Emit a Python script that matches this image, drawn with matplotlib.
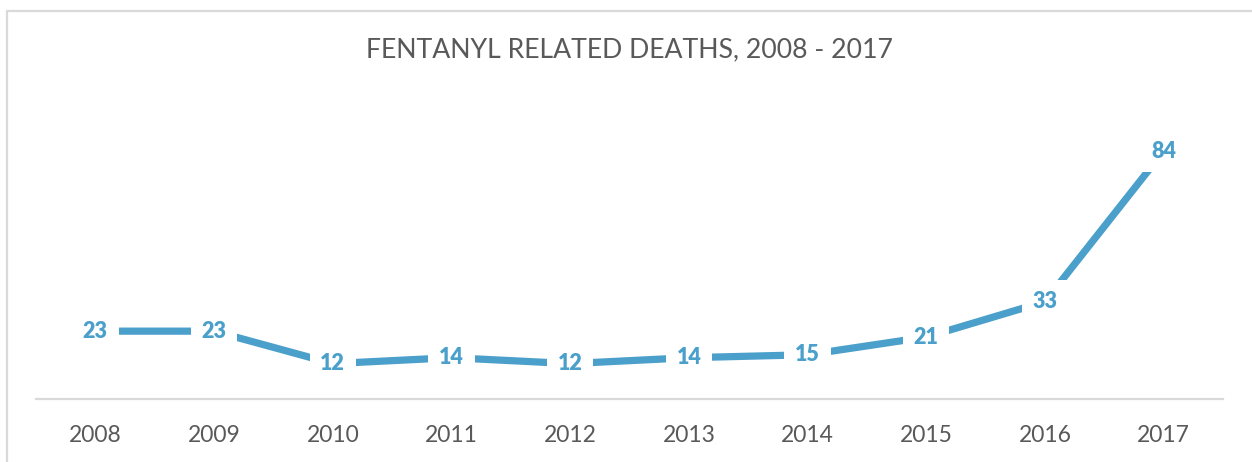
import matplotlib
matplotlib.use("Agg")
import matplotlib.pyplot as plt
from matplotlib.patches import Rectangle

years = ["2008", "2009", "2010", "2011", "2012", "2013", "2014", "2015", "2016", "2017"]
deaths = [23, 23, 12, 14, 12, 14, 15, 21, 33, 84]
title = "FENTANYL RELATED DEATHS, 2008 - 2017"

W, H = 1252, 462
fig = plt.figure(figsize=(W / 100, H / 100), dpi=100)
fig.patch.set_facecolor("white")

# outer chart border (extends past right and bottom edges)
fig.patches.append(Rectangle((7 / W, -0.1), 1.2, 1 - 11 / H + 0.1, transform=fig.transFigure,
                             fill=False, edgecolor="#d9d9d9", linewidth=1.6))

left, right = 36 / W, 1223 / W
bottom, top = 1 - 399 / H, 1 - 104 / H
ax = fig.add_axes([left, bottom, right - left, top - bottom])
blue = "#4a9fcb"
x = list(range(len(years)))
ax.plot(x, deaths, color=blue, linewidth=5.2, solid_capstyle="butt", zorder=2)
for xi, v in zip(x, deaths):
    ax.text(xi, v, str(v), ha="center", va="center", color=blue, fontsize=15.5,
            fontweight="heavy", family="Lato", zorder=3,
            bbox=dict(boxstyle="square,pad=0.5", facecolor="white", edgecolor="none"))

ax.set_xlim(-0.5, len(years) - 0.5)
ax.set_ylim(0, 100)
ax.set_xticks(x)
ax.set_xticklabels(years, fontsize=16.5, color="#595959", family="Lato")
ax.tick_params(axis="x", length=0, pad=19)
ax.set_yticks([])
for s in ["top", "left", "right"]:
    ax.spines[s].set_visible(False)
ax.spines["bottom"].set_color("#d9d9d9")
ax.spines["bottom"].set_linewidth(1.6)

fig.text(629 / W, 1 - 50 / H, title, ha="center", va="center", fontsize=19.2,
         color="#595959", family="Lato")

fig.savefig("out.png", dpi=100)
